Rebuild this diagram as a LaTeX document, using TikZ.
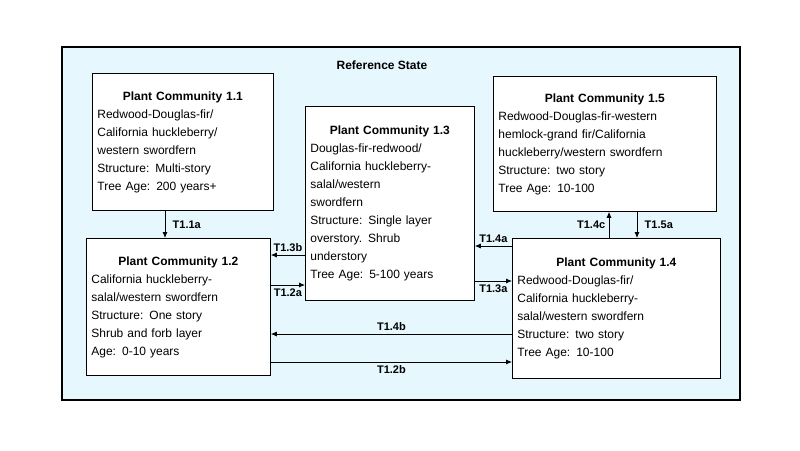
\documentclass[tikz,border=0pt]{standalone}
\usepackage{fontspec}
\setmainfont{Liberation Sans}
\usetikzlibrary{arrows.meta}
\begin{document}
\begin{tikzpicture}[x=1pt, y=-1pt, thick, >={Latex[length=6pt,width=5pt]},
             comm/.style = {draw, fill=white, anchor=north west, align=left, inner sep=5pt, font=\fontsize{12}{18}\selectfont},
             lab/.style = {font=\bfseries\fontsize{11}{13}\selectfont}]
            \useasboundingbox (0,0) rectangle (800,450);
            \draw[fill=cyan!10, line width=1.6pt] (62,47) rectangle (740,400);
            \node[lab, font=\bfseries\fontsize{12}{14}\selectfont] (title) at (382,65) {Reference State};

            % Boxes
            \node[comm, text width=171pt, minimum height=137pt] (n11) at (92,73)
                {\makebox[\linewidth]{\textbf{Plant Community 1.1}}\\Redwood-Douglas-fir/\\California huckleberry/\\western swordfern\\Structure:\enspace Multi-story\\Tree Age:\enspace 200 years+};
            \node[comm, text width=159pt, minimum height=194pt] (n13) at (305,106)
                {\makebox[\linewidth]{\textbf{Plant Community 1.3}}\\Douglas-fir-redwood/\\California huckleberry-\\salal/western\\swordfern\\Structure:\enspace Single layer\\overstory.\enspace Shrub\\understory\\Tree Age:\enspace 5-100 years};
            \node[comm, text width=213pt, minimum height=135pt] (n15) at (493,76)
                {\makebox[\linewidth]{\textbf{Plant Community 1.5}}\\Redwood-Douglas-fir-western\\hemlock-grand fir/California\\huckleberry/western swordfern\\Structure:\enspace two story\\Tree Age:\enspace 10-100};
            \node[comm, text width=174pt, minimum height=137pt] (n12) at (86,238)
                {\makebox[\linewidth]{\textbf{Plant Community 1.2}}\\California huckleberry-\\salal/western swordfern\\Structure:\enspace One story\\Shrub and forb layer\\Age:\enspace 0-10 years};
            \node[comm, text width=198pt, minimum height=140pt] (n14) at (512,238)
                {\makebox[\linewidth]{\textbf{Plant Community 1.4}}\\Redwood-Douglas-fir/\\California huckleberry-\\salal/western swordfern\\Structure:\enspace two story\\Tree Age:\enspace 10-100};

            % Transitions
            \draw[->] (165,0 |- n11.south) -- (165,0 |- n12.north) node[lab, midway, right=4pt] {T1.1a};
            \draw[->] (n13.west |- 0,255) -- (n12.east |- 0,255) node[lab, midway, above] {T1.3b};
            \draw[->] (n12.east |- 0,285) -- (n13.west |- 0,285) node[lab, midway, below] {T1.2a};
            \draw[->] (n14.west |- 0,246) -- (n13.east |- 0,246) node[lab, midway, above] {T1.4a};
            \draw[->] (n13.east |- 0,281) -- (n14.west |- 0,281) node[lab, midway, below] {T1.3a};
            \draw[->] (n14.west |- 0,334) -- (n12.east |- 0,334) node[lab, midway, above] {T1.4b};
            \draw[->] (n12.east |- 0,362) -- (n14.west |- 0,362) node[lab, midway, below] {T1.2b};
            \draw[->] (609,0 |- n14.north) -- (609,0 |- n15.south) node[lab, midway, left] {T1.4c};
            \draw[->] (637,0 |- n15.south) -- (637,0 |- n14.north) node[lab, midway, right=4pt] {T1.5a};
        \end{tikzpicture}
\end{document}
